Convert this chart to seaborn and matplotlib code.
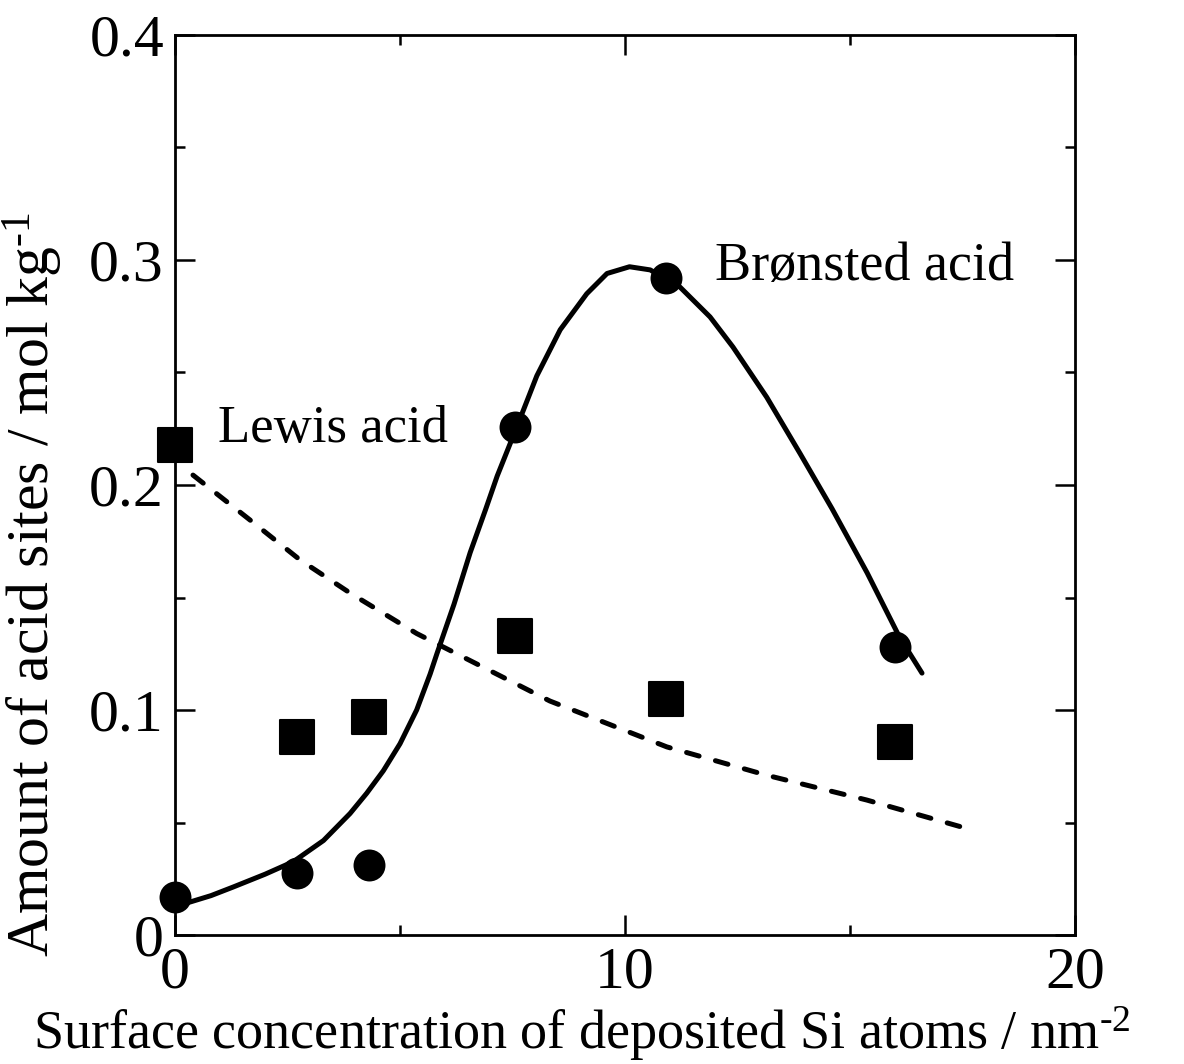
import numpy as np
import pandas as pd
import matplotlib
matplotlib.use("Agg")
import matplotlib.pyplot as plt
import seaborn as sns
from matplotlib.ticker import MultipleLocator, FixedLocator

# Measured points
si_conc = [0.0, 2.7, 4.3, 7.55, 10.9, 16.0]
bronsted = [0.017, 0.0275, 0.031, 0.226, 0.292, 0.128]
lewis = [0.218, 0.088, 0.097, 0.133, 0.105, 0.086]

# Fitted (guide) curves
bron_curve_x = [0.26, 0.8, 1.29, 2.0, 2.63, 3.3, 3.89, 4.26, 4.63, 5.0, 5.37, 5.67,
                5.82, 6.2, 6.56, 6.9, 7.16, 7.6, 8.04, 8.56, 9.15, 9.6, 10.1, 10.56,
                11.22, 11.89, 12.4, 13.15, 13.89, 14.6, 15.38, 16.1, 16.6]
bron_curve_y = [0.0142, 0.0175, 0.0213, 0.027, 0.0326, 0.042, 0.054, 0.063, 0.073,
                0.085, 0.100, 0.116, 0.125, 0.147, 0.170, 0.189, 0.204, 0.226,
                0.2485, 0.269, 0.285, 0.294, 0.297, 0.2956, 0.288, 0.2747, 0.2613,
                0.239, 0.214, 0.1895, 0.161, 0.1324, 0.1164]
lewis_curve_x = [0.4, 1.67, 2.78, 3.89, 5.37, 6.85, 8.33, 10.93, 13.15, 15.37, 17.48]
lewis_curve_y = [0.2044, 0.1844, 0.1667, 0.152, 0.134, 0.119, 0.104, 0.0836, 0.071, 0.06, 0.048]

sns.set_theme(style="ticks")
plt.rcParams['font.family'] = ['Liberation Serif', 'DejaVu Serif']
plt.rcParams['mathtext.fontset'] = 'custom'
plt.rcParams['mathtext.rm'] = 'Liberation Serif'
plt.rcParams['mathtext.it'] = 'Liberation Serif:italic'

fig = plt.figure(figsize=(11.84, 10.64), dpi=100)
ax = fig.add_axes([175/1184, 1 - 935/1064, 900/1184, 900/1064])

df_b = pd.DataFrame({"x": bron_curve_x, "y": bron_curve_y})
df_l = pd.DataFrame({"x": lewis_curve_x, "y": lewis_curve_y})
sns.lineplot(data=df_b, x="x", y="y", ax=ax, color="black", lw=3.6, sort=False,
             estimator=None, zorder=2)
ax.lines[-1].set_solid_capstyle("round")
ax.lines[-1].set_solid_joinstyle("round")
sns.lineplot(data=df_l, x="x", y="y", ax=ax, color="black", lw=3.6, sort=False,
             estimator=None, zorder=2)
ax.lines[-1].set_dashes([2.6, 3.4])
ax.lines[-1].set_dash_capstyle("round")

pts = pd.DataFrame({"x": si_conc, "b": bronsted, "l": lewis})
sns.scatterplot(data=pts, x="x", y="b", ax=ax, marker="o", s=23**2, color="black",
                edgecolor="black", linewidth=0, zorder=3, clip_on=False)
sns.scatterplot(data=pts, x="x", y="l", ax=ax, marker="s", s=24**2, color="black",
                edgecolor="black", linewidth=1.5, zorder=3, clip_on=False)

ax.set_xlim(0, 20)
ax.set_ylim(0, 0.4)
ax.xaxis.set_major_locator(FixedLocator([0, 10, 20]))
ax.xaxis.set_minor_locator(FixedLocator([5, 15]))
ax.set_xticklabels(["0", "10", "20"])
ax.set_yticks([0, 0.1, 0.2, 0.3, 0.4])
ax.yaxis.set_minor_locator(MultipleLocator(0.05))
ax.set_yticklabels(["0", "0.1", "0.2", "0.3", "0.4"])

ax.tick_params(which="both", direction="in", top=True, right=True, width=1.8,
               color="black", labelsize=43, labelcolor="black")
ax.tick_params(which="major", length=14.4, pad=8)
ax.tick_params(which="minor", length=7.2)
for sp in ax.spines.values():
    sp.set_visible(True)
    sp.set_linewidth(2.0)
    sp.set_color("black")

ax.set_xlabel("Surface concentration of deposited Si atoms / nm$^{\\text{-2}}$",
              fontsize=39, color="black")
ax.xaxis.set_label_coords(0.452, -0.077)
ax.set_ylabel("Amount of acid sites / mol kg$^{\\text{-1}}$",
              fontsize=43, color="black")
ax.yaxis.set_label_coords(-0.122, 0.39)

ax.text(0.95, 0.225, "Lewis acid", fontsize=38, color="black", va="center", ha="left")
ax.text(12.0, 0.297, "Brønsted acid", fontsize=39, color="black", va="center", ha="left")

fig.savefig("out.png", dpi=100)
